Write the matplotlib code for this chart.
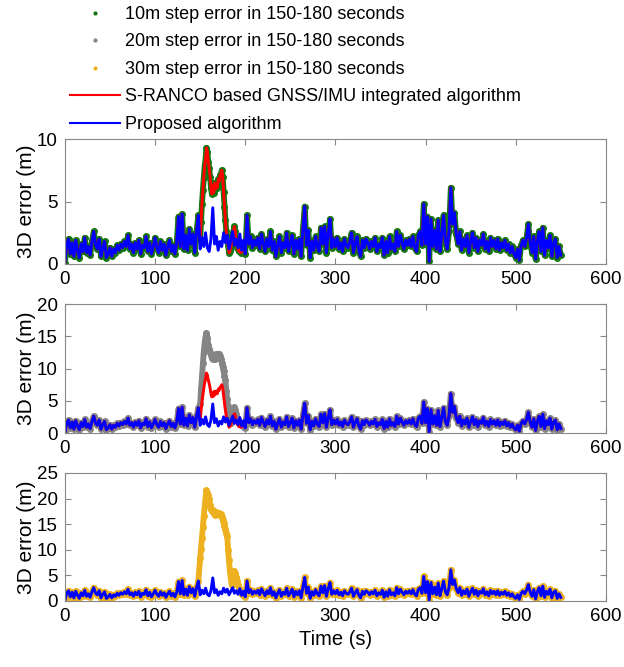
import numpy as np
import matplotlib.pyplot as plt
from matplotlib.lines import Line2D

plt.rcParams['font.family'] = ['Liberation Sans', 'DejaVu Sans']

# proposed algorithm, 3D error every 2 s (0..550)
t_base = np.arange(0, 551, 2)
proposed = [
    0.1, 1.5, 2.0, 0.8, 1.7, 0.6, 1.9, 1.1, 0.5, 1.6, 1.0, 2.1, 0.9, 1.4, 0.7, 1.8, 2.6, 1.5, 1.2, 2.0, 0.6, 1.3, 1.8, 0.5, 0.8,
    1.3, 0.6, 1.2, 0.9, 1.5, 1.1, 1.6, 1.3, 1.8, 1.4, 2.3, 1.2, 1.6, 0.9, 1.7, 1.2, 1.9, 0.8, 1.5, 1.3, 2.2, 1.0, 1.7, 0.8, 1.4,
    2.1, 1.3, 0.9, 1.8, 1.1, 1.6, 0.7, 1.4, 1.9, 1.0, 1.5, 0.8, 1.7, 3.8, 1.4, 4.0, 1.2, 2.3, 1.1, 2.8, 1.6, 2.4, 0.9, 2.6, 3.9,
    1.2, 2.1, 1.4, 2.5, 1.3, 1.0, 2.0, 4.5, 1.6, 2.2, 1.1, 1.8, 1.4, 2.5, 1.7, 2.3, 1.2, 1.9, 2.6, 1.5, 2.0, 1.3, 2.4, 1.1, 1.9,
    0.8, 3.9, 1.6, 2.2, 1.3, 1.9, 1.5, 2.1, 1.2, 2.4, 1.7, 1.0, 2.0, 1.4, 2.6, 1.1, 1.8, 0.6, 1.5, 2.2, 0.9, 1.7, 1.3, 2.5, 1.0,
    1.6, 2.3, 0.8, 1.9, 1.2, 2.0, 0.6, 2.8, 4.6, 1.5, 2.7, 0.5, 1.8, 1.1, 2.2, 1.4, 1.0, 2.9, 1.6, 3.0, 0.9, 2.4, 3.6, 1.3, 2.0,
    1.4, 2.1, 1.2, 1.7, 1.0, 2.0, 1.5, 1.3, 1.8, 2.5, 0.9, 1.6, 2.2, 1.1, 0.6, 1.9, 1.3, 2.0, 1.7, 1.2, 1.8, 1.4, 2.1, 1.0, 1.6,
    1.3, 2.1, 0.7, 1.8, 0.9, 2.2, 1.2, 1.6, 1.0, 2.6, 1.4, 2.3, 1.7, 1.2, 1.9, 1.5, 2.0, 1.4, 2.2, 1.3, 1.0, 2.3, 2.6, 1.5, 4.8,
    1.6, 3.8, 0.2, 3.6, 1.4, 2.7, 1.2, 3.5, 1.0, 2.4, 3.9, 1.8, 1.2, 2.6, 6.1, 3.2, 4.1, 2.4, 1.6, 2.6, 1.1, 2.0, 1.4, 2.3, 0.9,
    1.8, 2.5, 1.3, 2.1, 1.0, 1.9, 1.5, 2.4, 1.2, 1.8, 1.0, 2.1, 1.4, 1.9, 1.2, 2.0, 1.1, 1.7, 1.3, 1.9, 1.1, 1.6, 0.9, 1.4, 0.8,
    0.5, 1.2, 0.3, 1.5, 1.9, 1.4, 2.1, 3.2, 1.7, 0.9, 2.2, 0.4, 1.8, 2.6, 1.0, 2.9, 0.7, 1.9, 1.3, 2.3, 0.6, 1.7, 2.0, 0.5, 1.4,
    0.7,
]

# step error window, every 1 s (150..199)
t_peak = np.arange(150, 200)
sranco_peak = [
    2.0, 3.4, 4.8, 5.9, 6.9, 7.8, 8.4, 9.3, 9.0, 8.2, 7.7, 7.0, 6.1, 5.6, 6.3, 5.7, 6.5, 6.0, 6.4, 6.1,
    6.8, 6.6, 7.1, 7.2, 7.5, 7.0, 5.8, 4.6, 3.5, 2.6, 2.0, 1.5, 0.9, 1.0, 1.3, 1.8, 2.4, 2.7, 3.0, 2.6,
    1.8, 1.4, 1.2, 1.0, 1.1, 0.9, 1.0, 1.3, 1.1, 1.2,
]
step20_peak = [
    4.5, 6.8, 8.8, 10.8, 12.6, 14.0, 15.0, 15.5, 14.8, 13.6, 13.0, 12.6, 12.1, 11.6, 11.4, 11.9, 11.5, 11.8, 12.2, 11.7,
    11.9, 12.3, 12.0, 11.5, 10.9, 10.2, 9.6, 8.8, 8.2, 6.5, 5.2, 4.2, 3.0, 2.2, 1.6, 2.0, 2.6, 3.3, 4.0, 3.6,
    2.9, 2.3, 2.0, 1.7, 1.5, 1.3, 1.2, 1.3, 1.1, 1.0,
]
step30_peak = [
    8.3, 10.2, 12.3, 14.5, 16.6, 18.5, 20.2, 21.6, 21.0, 20.6, 20.0, 18.8, 17.9, 17.5, 17.8, 17.2, 16.8, 17.0, 17.3, 16.9,
    17.1, 17.2, 16.8, 16.9, 16.4, 15.8, 15.2, 14.6, 14.0, 13.2, 12.6, 10.0, 8.0, 5.8, 4.4, 3.2, 4.0, 5.0, 5.8, 5.4,
    4.6, 3.9, 3.2, 2.6, 2.0, 1.6, 1.3, 1.1, 1.2, 1.0,
]

proposed = np.array(proposed)
before = t_base < 150
after = t_base >= 200


def with_peak(peak):
    t = np.concatenate([t_base[before], t_peak, t_base[after]])
    v = np.concatenate([proposed[before], peak, proposed[after]])
    return t, v


t_r, sranco = with_peak(sranco_peak)
t_g, step20 = with_peak(step20_peak)
t_o, step30 = with_peak(step30_peak)

green = '#127812'
gray = '#858585'
orange = '#edb120'
ms = 5.0
lw = 2.1
olw = 4.2   # width of the dotted step-error trace

fig = plt.figure(figsize=(6.24, 6.67), dpi=100)
ax1 = fig.add_axes([0.104, 0.6042, 0.867, 0.1874])
ax2 = fig.add_axes([0.104, 0.3508, 0.867, 0.1934])
ax3 = fig.add_axes([0.104, 0.0990, 0.867, 0.1919])

ax1.plot(t_r, sranco, '-o', color=green, ms=ms, mew=0, lw=olw)
ax1.plot(t_r, sranco, color='red', lw=lw)
ax1.plot(t_base, proposed, color='blue', lw=lw)

ax2.plot(t_g, step20, '-o', color=gray, ms=ms, mew=0, lw=olw)
ax2.plot(t_r, sranco, color='red', lw=lw)
ax2.plot(t_base, proposed, color='blue', lw=lw)

ax3.plot(t_o, step30, color='red', lw=1)
ax3.plot(t_o, step30, '-o', color=orange, ms=ms, mew=0, lw=olw)
ax3.plot(t_base, proposed, color='blue', lw=lw)

for ax, top in [(ax1, 10), (ax2, 20), (ax3, 25)]:
    ax.set_xlim(0, 600)
    ax.set_ylim(0, top)
    ax.set_xticks(range(0, 601, 100))
    ax.set_yticks(range(0, top + 1, 5))
    ax.tick_params(direction='in', top=True, right=True, labelsize=13.5,
                   color='#888888', length=4, pad=5)
    for s in ax.spines.values():
        s.set_color('#888888')
        s.set_linewidth(0.8)
    ax.set_ylabel('3D error (m)', fontsize=15, labelpad=1)

ax3.set_xlabel('Time (s)', fontsize=14.5, labelpad=4)

handles = [
    Line2D([], [], ls='none', marker='o', color=green, ms=3, mew=0),
    Line2D([], [], ls='none', marker='o', color=gray, ms=3, mew=0),
    Line2D([], [], ls='none', marker='o', color=orange, ms=3, mew=0),
    Line2D([], [], color='red', lw=1.5),
    Line2D([], [], color='blue', lw=1.5),
]
labels = [
    '10m step error in 150-180 seconds',
    '20m step error in 150-180 seconds',
    '30m step error in 150-180 seconds',
    'S-RANCO based GNSS/IMU integrated algorithm',
    'Proposed algorithm',
]
fig.legend(handles, labels, loc='upper left', bbox_to_anchor=(70 / 624, 1 - 6 / 667),
           frameon=False, fontsize=13, handlelength=2.77, handletextpad=0.28,
           labelspacing=0.58, borderpad=0, borderaxespad=0, numpoints=1)

fig.savefig('out.png', dpi=100)
